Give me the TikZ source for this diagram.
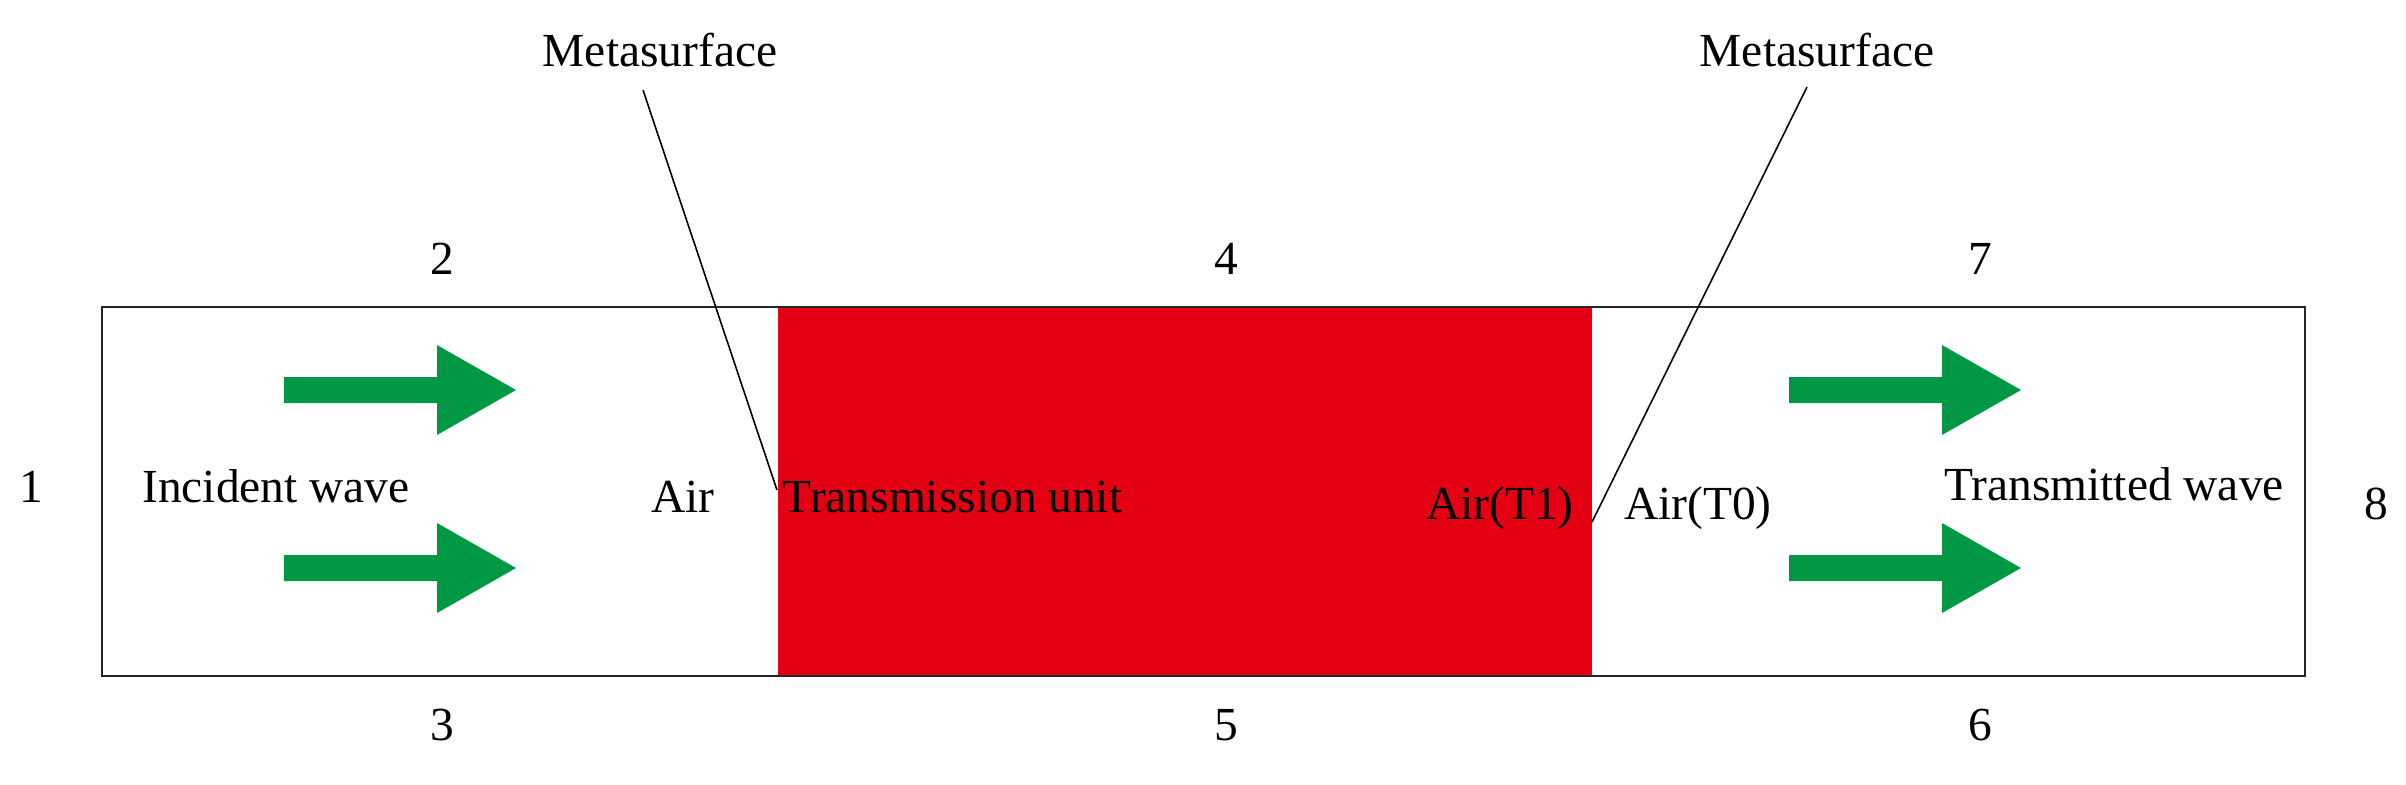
\documentclass[tikz,border=0pt]{standalone}
\usepackage{fontspec}
\setmainfont{Liberation Serif}
\usepackage{tikz}
\usetikzlibrary{positioning}

\definecolor{unitred}{RGB}{228,0,18}
\definecolor{wavegreen}{RGB}{0,152,68}

\begin{document}
\begin{tikzpicture}[
		font=\fontsize{13.5pt}{16pt}\selectfont,
		lbl/.style={inner sep=0pt, anchor=base},
		leader/.style={line width=0.45pt},
		guidebox/.style={draw=black!85, line width=0.8pt, inner sep=0pt, minimum width=22.03cm, minimum height=3.69cm}
	]
	\useasboundingbox (0,0) rectangle (24.06,-7.84);

	% Unita di trasmissione (rossa)
	\node[fill=unitred, inner sep=0pt, minimum width=8.14cm, minimum height=3.69cm] (unit) at (11.85,-4.915) {};
	% Guida d'onda
	\node[guidebox] (guide) at (12.035,-4.915) {};

	% Frecce dell'onda
	\foreach \ax/\ay in {2.84/-3.90, 2.84/-5.68, 17.89/-3.90, 17.89/-5.68}
		\fill[wavegreen] (\ax,\ay+0.13) -- ++(1.53,0) -- ++(0,0.32) -- ++(0.79,-0.45)
			-- ++(-0.79,-0.45) -- ++(0,0.32) -- ++(-1.53,0) -- cycle;

	% Numeri dei bordi
	\node[lbl] (b1) at (0.31,-5.02) {1};
	\node[lbl] (b2) at (4.42,-2.74) {2};
	\node[lbl] (b3) at (4.42,-7.40) {3};
	\node[lbl] (b4) at (12.26,-2.74) {4};
	\node[lbl] (b5) at (12.26,-7.40) {5};
	\node[lbl] (b6) at (19.80,-7.40) {6};
	\node[lbl] (b7) at (19.80,-2.74) {7};
	\node[lbl] (b8) at (23.76,-5.19) {8};

	% Etichette interne
	\node[lbl] (incident) at (2.76,-5.02) {Incident wave};
	\node[lbl] (air) at (6.83,-5.12) {Air};
	\node[lbl, anchor=base west] (transunit) at (7.82,-5.12) {Transmission unit};
	\node[lbl] (airT1) at (15.00,-5.19) {Air(T1)};
	\node[lbl] (airT0) at (16.98,-5.19) {Air(T0)};
	\node[lbl] (transmitted) at (21.14,-5.00) {Transmitted wave};

	% Metasuperfici
	\node[lbl] (meta1) at (6.60,-0.66) {Metasurface};
	\node[lbl] (meta2) at (18.17,-0.66) {Metasurface};
	\coordinate (ms1foot) at (7.77,-4.90);
	\coordinate (ms2foot) at (15.92,-5.22);
	\draw[leader] ([xshift=-0.17cm, yshift=-0.24cm]meta1.base) -- (ms1foot);
	\draw[leader] ([xshift=-0.10cm, yshift=-0.21cm]meta2.base) -- (ms2foot);
\end{tikzpicture}
\end{document}
